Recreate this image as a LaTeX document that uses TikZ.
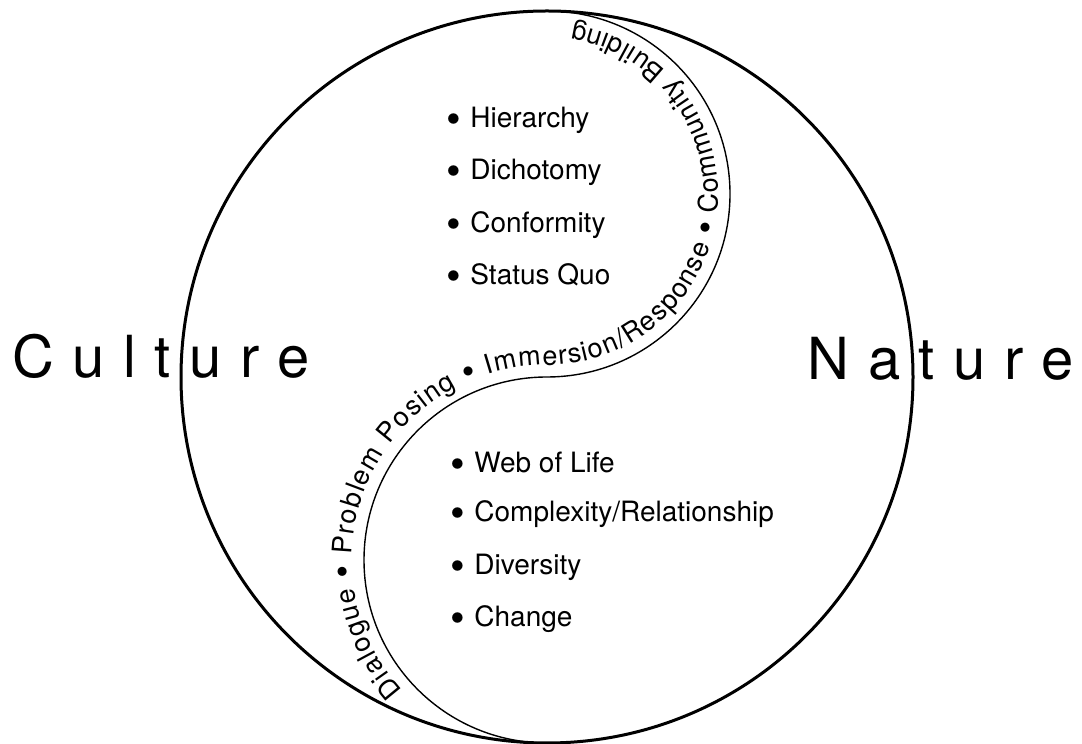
\documentclass[tikz,border=0pt]{standalone}
\usepackage{fontspec}
\setmainfont{TeX Gyre Heros}
\usetikzlibrary{decorations.text}
\newcommand\lsp{\kern18.5pt\relax}
\newcommand\curvefont{\fontsize{27}{27}\selectfont}
\newcommand\bigbul{\raisebox{-0.18em}{\scalebox{1.5}{•}}}
\newcommand\curvebul{\raisebox{-0.12em}{\scalebox{1.35}{•}}}
\newcommand\bl{\bigbul\hspace{0.34em}}
\begin{document}
\begin{tikzpicture}[x=1pt,y=1pt,
  item/.style={anchor=base west, inner sep=0pt, font=\fontsize{28}{30}\selectfont},
  big/.style={anchor=base west, inner sep=0pt, font=\fontsize{58}{60}\selectfont},
  rim/.style={line width=3pt},
  scurve/.style={line width=1.4pt}]
\useasboundingbox[fill=white] (0,0) rectangle (1082,744);
% outer circle
\coordinate (O) at (547,367);
\draw[rim] (O) circle[radius=366];
% S curve
\coordinate (top) at (547,733);
\draw[scurve] (top) arc[start angle=90,end angle=-90,radius=183]
                    arc[start angle=90,end angle=270,radius=183];
% text along the S curve
\coordinate (tstart) at (547,-11);
\path[decorate, decoration={text along path,
    text={|\curvefont|Dialogue {\curvebul} Problem Posing {\curvebul} Immersion/Response {\curvebul} Community Building},
    text align={fit to path, left indent=163pt, right indent=26pt}}]
  (tstart) arc[start angle=-90,end angle=-270,radius=195]
           arc[start angle=-90,end angle=90,radius=171];
% big words
\node[big] (culture) at (12,366) {C\lsp u\lsp l\lsp t\lsp u\lsp r\lsp e};
\node[big] (nature) at (807.5,364) {N\lsp a\lsp t\lsp u\lsp r\lsp e};
% upper list
\node[item] (l1) at (446,616) {\bl Hierarchy};
\node[item] (l2) at (446,564) {\bl Dichotomy};
\node[item] (l3) at (446,511) {\bl Conformity};
\node[item] (l4) at (446,459) {\bl Status Quo};
% lower list
\node[item] (m1) at (450,271) {\bl Web of Life};
\node[item] (m2) at (450,222) {\bl Complexity/Relationship};
\node[item] (m3) at (450,169) {\bl Diversity};
\node[item] (m4) at (450,117) {\bl Change};
\end{tikzpicture}
\end{document}
